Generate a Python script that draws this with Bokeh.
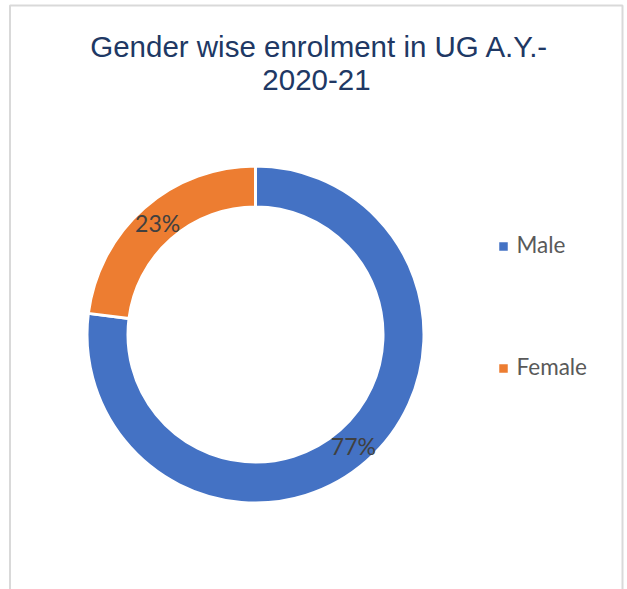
import numpy as np
from bokeh.plotting import figure
from bokeh.models import Range1d, ColumnDataSource
from bokeh.core.properties import value
from bokeh.embed import file_html
from bokeh.resources import INLINE

# ---- data ----
categories = ["Male", "Female"]
shares = [77, 23]
colors = ["#4472C4", "#ED7D31"]
title_lines = ["Gender wise enrolment in UG A.Y.-", "2020-21"]

# ---- layout (pixel-like data units) ----
W, H = 627, 589
cx, cy = 255, 255
r_in, r_out = 129, 167

p = figure(width=W, height=H, x_range=Range1d(0, W), y_range=Range1d(0, H),
           output_backend="svg", toolbar_location=None, min_border=0)
p.axis.visible = False
p.grid.visible = False
p.outline_line_color = None
p.background_fill_color = "white"
p.border_fill_color = "white"

# chart frame (open at the bottom, like the cropped reference)
p.line(x=[9.5, 9.5, 622, 622], y=[-20, 584, 584, -20],
       line_color="#d9d9d9", line_width=2)

# donut
vals = np.array(shares, dtype=float)
frac = vals / vals.sum()
cum_after = np.cumsum(frac)
cum_before = cum_after - frac
start = np.pi / 2 - 2 * np.pi * cum_before
end = np.pi / 2 - 2 * np.pi * cum_after
mid = (start + end) / 2
r_mid = (r_in + r_out) / 2
labels = [f"{round(f * 100)}%" for f in frac]

src = ColumnDataSource(dict(
    start=start, end=end, color=colors, cat=categories,
    lx=cx + r_mid * np.cos(mid), ly=cy + r_mid * np.sin(mid), lab=labels,
))
p.annular_wedge(x=cx, y=cy, inner_radius=r_in - 1.5, outer_radius=r_out + 1.5,
                start_angle="start", end_angle="end", direction="clock",
                fill_color="color", line_color="white", line_width=3, source=src)
p.text(x="lx", y="ly", text="lab", source=src, text_align="center",
       text_baseline="middle", text_color="#404040",
       text_font=value("Lato"), text_font_size="23px")

# title
p.text(x=[319, 316], y=[543, 510], text=title_lines, text_align="center",
       text_baseline="alphabetic", text_color="#203864",
       text_font=value("Liberation Sans"), text_font_size="29.5px")

# legend
leg_y = [343, 221]
leg = ColumnDataSource(dict(x=[503] * 2, y=leg_y, ty=[y + 2 for y in leg_y],
                            tx=[516] * 2, color=colors, cat=categories))
p.scatter(x="x", y="y", marker="square", size=8.5, fill_color="color",
          line_color=None, source=leg)
p.text(x="tx", y="ty", text="cat", source=leg, text_align="left",
       text_baseline="middle", text_color="#595959",
       text_font=value("Lato"), text_font_size="22.5px")

open("out.html", "w").write(file_html(p, INLINE))
